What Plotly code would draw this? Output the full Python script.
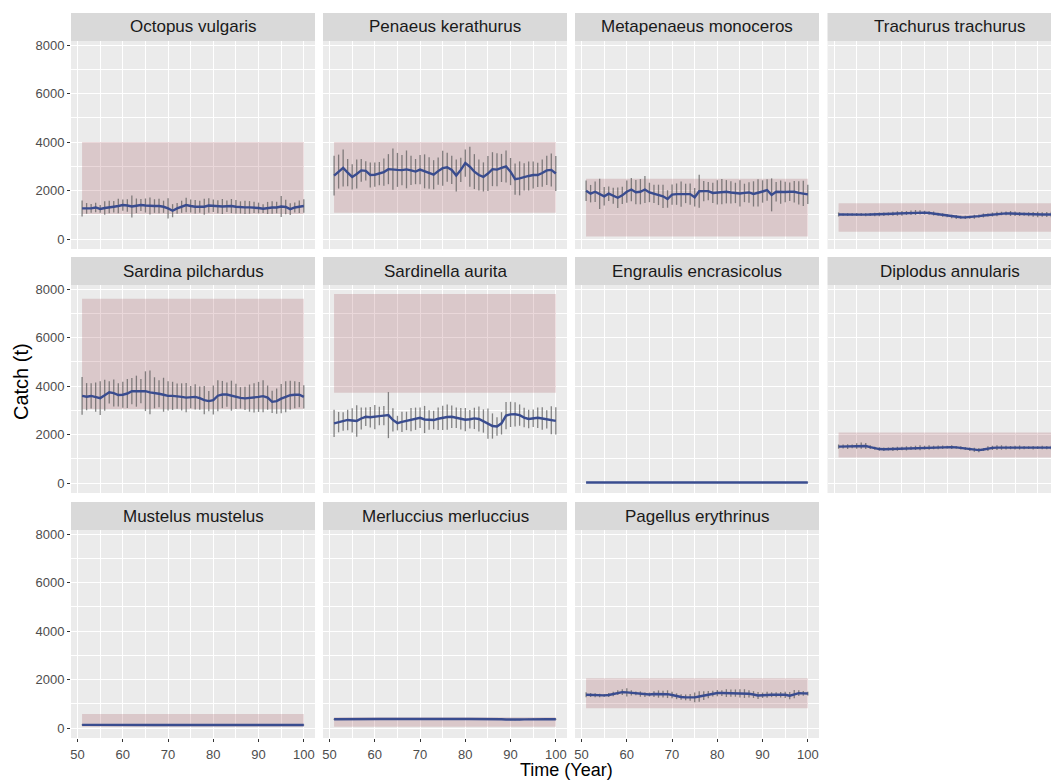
import plotly.graph_objects as go

# ---------------- data ----------------
years = list(range(51, 101))

species = ["Octopus vulgaris", "Penaeus kerathurus", "Metapenaeus monoceros",
           "Trachurus trachurus", "Sardina pilchardus", "Sardinella aurita",
           "Engraulis encrasicolus", "Diplodus annularis", "Mustelus mustelus",
           "Merluccius merluccius", "Pagellus erythrinus"]

# reference (target) band per species: lower / upper catch
band_low = [1030, 1080, 100, 300, 3050, 3720, 0, 1050, 55, 55, 810]
band_high = [4000, 4000, 2480, 1470, 7600, 7790, 45, 2080, 580, 440, 2050]

octopus_mean = [1263, 1263, 1263, 1300, 1240, 1280, 1320, 1332, 1360, 1400,
                1380, 1340, 1370, 1400, 1380, 1360, 1360, 1360, 1330, 1263,
                1167, 1260, 1330, 1400, 1360, 1330, 1332, 1332, 1380, 1370,
                1330, 1340, 1350, 1360, 1330, 1304, 1304, 1304, 1304, 1280,
                1250, 1280, 1300, 1300, 1340, 1320, 1230, 1300, 1330, 1360]
octopus_err = [330, 220, 180, 200, 160, 280, 260, 240, 300, 230,
               260, 450, 300, 250, 290, 350, 280, 300, 250, 420,
               270, 220, 250, 300, 270, 280, 250, 330, 300, 260,
               270, 310, 240, 290, 280, 250, 270, 260, 230, 220,
               180, 250, 260, 240, 430, 300, 240, 210, 260, 280]

penaeus_mean = [2610, 2780, 2930, 2740, 2560, 2680, 2830, 2810, 2640, 2650,
                2700, 2760, 2880, 2880, 2850, 2840, 2870, 2830, 2780, 2860,
                2790, 2720, 2650, 2800, 2920, 2960, 2850, 2620, 2850, 3130,
                2980, 2780, 2640, 2560, 2700, 2880, 2860, 2930, 2990, 2780,
                2470, 2500, 2560, 2600, 2640, 2640, 2720, 2830, 2850, 2700]
penaeus_err = [820, 700, 760, 560, 520, 600, 470, 400, 520, 500,
               480, 560, 620, 850, 700, 620, 780, 600, 520, 600,
               700, 650, 600, 560, 720, 600, 580, 660, 500, 560,
               820, 720, 640, 600, 720, 700, 680, 580, 660, 560,
               640, 700, 560, 600, 560, 500, 560, 600, 680, 720]

metapenaeus_mean = [1990, 1870, 1950, 1860, 1760, 1870, 1780, 1700, 1800, 1950,
                    2040, 1930, 1950, 2040, 1920, 1860, 1820, 1760, 1650, 1830,
                    1850, 1850, 1880, 1850, 1720, 1970, 1975, 1975, 1900, 1920,
                    1950, 1950, 1920, 1900, 1880, 1900, 1920, 1860, 1900, 1960,
                    2020, 1820, 1950, 1930, 1940, 1950, 1950, 1900, 1880, 1840]
metapenaeus_err = [420, 360, 420, 620, 380, 300, 330, 420, 360, 460,
                   480, 500, 520, 560, 400, 380, 420, 480, 360, 420,
                   440, 520, 400, 440, 380, 680, 420, 380, 420, 500,
                   520, 480, 460, 420, 540, 380, 420, 520, 560, 460,
                   440, 680, 400, 480, 420, 380, 440, 480, 520, 400]

trachurus_mean = [1010, 1005, 1005, 1010, 1010, 1010, 1005, 1010, 1010, 1015,
                  1020, 1030, 1040, 1050, 1060, 1070, 1085, 1095, 1098, 1090,
                  1075, 1050, 1020, 990, 960, 930, 910, 895, 893, 900,
                  920, 945, 970, 990, 1010, 1030, 1050, 1056, 1050, 1040,
                  1030, 1025, 1020, 1015, 1010, 1010, 1010, 1010, 1010, 1005]
trachurus_err = [80, 50, 60, 50, 60, 60, 70, 60, 70, 80,
                 70, 60, 80, 90, 100, 80, 90, 100, 90, 80,
                 70, 80, 60, 70, 60, 70, 80, 60, 70, 60,
                 80, 70, 80, 60, 80, 90, 70, 80, 100, 90,
                 80, 70, 80, 100, 110, 90, 100, 110, 120, 100]

sardina_mean = [3594, 3560, 3590, 3540, 3500, 3620, 3740, 3710, 3630, 3640,
                3690, 3790, 3786, 3786, 3786, 3740, 3720, 3680, 3640, 3594,
                3594, 3580, 3550, 3520, 3540, 3553, 3500, 3420, 3376, 3420,
                3600, 3649, 3649, 3600, 3570, 3512, 3490, 3500, 3512, 3550,
                3580, 3520, 3348, 3376, 3480, 3560, 3620, 3640, 3640, 3550]
sardina_err = [780, 560, 520, 600, 700, 640, 460, 560, 480, 540,
               600, 540, 640, 500, 820, 900, 640, 560, 700, 600,
               580, 520, 560, 600, 460, 520, 480, 580, 420, 600,
               640, 560, 500, 620, 520, 440, 480, 560, 600, 620,
               660, 500, 460, 520, 600, 640, 600, 560, 520, 480]

sardinella_mean = [2460, 2510, 2540, 2600, 2580, 2560, 2660, 2730, 2710, 2720,
                   2760, 2780, 2800, 2600, 2470, 2520, 2560, 2610, 2650, 2690,
                   2620, 2597, 2597, 2650, 2690, 2720, 2733, 2690, 2650, 2610,
                   2630, 2665, 2640, 2556, 2450, 2350, 2330, 2460, 2780, 2830,
                   2835, 2800, 2700, 2640, 2670, 2692, 2660, 2624, 2590, 2560]
sardinella_err = [560, 420, 380, 420, 500, 650, 450, 380, 420, 500,
                  380, 400, 950, 480, 300, 420, 380, 480, 460, 420,
                  560, 400, 380, 460, 500, 520, 460, 420, 440, 480,
                  380, 440, 520, 480, 620, 520, 380, 460, 560, 520,
                  500, 440, 400, 380, 360, 420, 460, 380, 580, 560]

engraulis_mean = [22, 21, 22, 23, 22, 21, 22, 22, 23, 22,
                  21, 22, 22, 23, 22, 21, 22, 22, 23, 22,
                  21, 22, 22, 23, 22, 21, 22, 22, 23, 22,
                  21, 22, 22, 23, 22, 21, 22, 22, 23, 22,
                  21, 22, 22, 23, 22, 21, 22, 22, 23, 22]
engraulis_err = [4, 5, 4, 6, 5, 4, 5, 4, 6, 5,
                 4, 5, 4, 6, 5, 4, 5, 4, 6, 5,
                 4, 5, 4, 6, 5, 4, 5, 4, 6, 5,
                 4, 5, 4, 6, 5, 4, 5, 4, 6, 5,
                 4, 5, 4, 6, 5, 4, 5, 4, 6, 5]

diplodus_mean = [1500, 1505, 1500, 1510, 1525, 1540, 1525, 1480, 1430, 1400,
                 1394, 1400, 1405, 1410, 1420, 1430, 1440, 1450, 1455, 1460,
                 1462, 1465, 1470, 1475, 1480, 1480, 1470, 1450, 1420, 1395,
                 1370, 1355, 1380, 1420, 1450, 1460, 1462, 1460, 1458, 1460,
                 1462, 1460, 1458, 1455, 1460, 1462, 1460, 1458, 1460, 1460]
diplodus_err = [90, 80, 100, 80, 110, 130, 120, 80, 60, 70,
                70, 60, 80, 80, 70, 90, 80, 90, 100, 80,
                90, 70, 80, 70, 60, 80, 60, 70, 60, 70,
                80, 90, 60, 100, 90, 100, 90, 80, 70, 80,
                80, 70, 60, 70, 60, 70, 70, 80, 70, 60]

mustelus_mean = [128, 126, 127, 125, 126, 128, 127, 126, 125, 124,
                 125, 126, 127, 126, 125, 124, 124, 125, 126, 125,
                 124, 123, 124, 125, 126, 125, 124, 125, 126, 127,
                 126, 125, 124, 125, 126, 125, 124, 123, 124, 125,
                 126, 125, 124, 125, 126, 125, 124, 125, 126, 125]
mustelus_err = [12, 10, 14, 11, 12, 13, 10, 12, 11, 13,
                12, 10, 11, 12, 13, 11, 10, 12, 11, 13,
                12, 11, 10, 12, 13, 11, 12, 10, 11, 12,
                13, 11, 12, 10, 11, 12, 13, 11, 12, 10,
                11, 12, 13, 11, 12, 10, 11, 12, 13, 11]

merluccius_mean = [360, 362, 365, 370, 375, 385, 392, 390, 380, 375,
                   372, 370, 368, 366, 365, 364, 365, 366, 368, 370,
                   372, 370, 368, 366, 365, 364, 365, 366, 368, 370,
                   372, 374, 372, 370, 368, 366, 364, 362, 352, 342,
                   340, 348, 356, 362, 365, 366, 365, 364, 362, 360]
merluccius_err = [20, 22, 18, 25, 20, 24, 22, 26, 20, 22,
                  18, 20, 22, 24, 20, 18, 22, 20, 24, 22,
                  20, 18, 22, 20, 24, 22, 20, 18, 22, 24,
                  20, 22, 18, 20, 24, 22, 20, 18, 22, 20,
                  24, 22, 20, 18, 22, 20, 24, 22, 20, 18]

pagellus_mean = [1373, 1360, 1350, 1340, 1345, 1360, 1400, 1460, 1480, 1470,
                 1450, 1430, 1400, 1370, 1380, 1400, 1401, 1400, 1395, 1360,
                 1310, 1280, 1263, 1263, 1263, 1300, 1340, 1380, 1420, 1442,
                 1442, 1440, 1440, 1440, 1430, 1420, 1410, 1380, 1340, 1350,
                 1370, 1373, 1373, 1373, 1370, 1332, 1400, 1440, 1430, 1420]
pagellus_err = [100, 80, 80, 70, 60, 80, 90, 100, 120, 170,
                110, 80, 110, 90, 80, 120, 150, 140, 160, 130,
                120, 110, 120, 140, 200, 220, 180, 150, 120, 130,
                120, 160, 150, 150, 170, 180, 150, 140, 140, 110,
                120, 100, 100, 110, 130, 150, 170, 120, 100, 80]

means = [octopus_mean, penaeus_mean, metapenaeus_mean, trachurus_mean,
         sardina_mean, sardinella_mean, engraulis_mean, diplodus_mean,
         mustelus_mean, merluccius_mean, pagellus_mean]
errs = [octopus_err, penaeus_err, metapenaeus_err, trachurus_err,
        sardina_err, sardinella_err, engraulis_err, diplodus_err,
        mustelus_err, merluccius_err, pagellus_err]

y_ticks = [0, 2000, 4000, 6000, 8000]
x_ticks = [50, 60, 70, 80, 90, 100]

# ---------------- layout geometry (page pixels) ----------------
PAGE_W, PAGE_H = 1059, 780
OFF = 8                      # default body margin of the html page
W, H = PAGE_W - OFF, PAGE_H - OFF
col_left = [71, 323, 575, 827.5]
col_right = [315, 567, 819, 1059]
row_top = [41, 285, 530]
row_bot = [249, 493, 738]
strip_h = 28
px_per_year = 4.525
x_lo = 48.55
y_range = [-412, 8165]


def fx(p):
    return (p - OFF) / W


def fy(p):
    return 1 - (p - OFF) / H


BAND = "rgba(150,60,70,0.2)"
LINE = "#394C8F"
ERR = "rgba(95,95,95,0.75)"
FONT = "Liberation Sans, Arial, sans-serif"

fig = go.Figure()
shapes = []
annotations = []

for k, name in enumerate(species):
    r, c = divmod(k, 4)
    idx = "" if k == 0 else str(k + 1)
    xa, ya = "x" + idx, "y" + idx
    m, e = means[k], errs[k]

    # band
    x0, x1 = min(years), max(years)
    fig.add_trace(go.Scatter(
        x=[x0, x1, x1, x0, x0],
        y=[band_low[k], band_low[k], band_high[k], band_high[k], band_low[k]],
        mode="lines", fill="toself", fillcolor=BAND, line=dict(width=0),
        xaxis=xa, yaxis=ya, hoverinfo="skip", showlegend=False))
    # error bars
    ex, ey = [], []
    for yr, mv, ev in zip(years, m, e):
        ex += [yr, yr, None]
        ey += [mv - ev, mv + ev, None]
    fig.add_trace(go.Scatter(x=ex, y=ey, mode="lines",
                             line=dict(color=ERR, width=1.3),
                             xaxis=xa, yaxis=ya, hoverinfo="skip", showlegend=False))
    # mean line
    fig.add_trace(go.Scatter(x=years, y=m, mode="lines",
                             line=dict(color=LINE, width=2.4),
                             xaxis=xa, yaxis=ya, showlegend=False))

    xr = (col_right[c] - col_left[c]) / px_per_year
    show_x = (r == 2)
    show_y = (c == 0)
    fig.layout["xaxis" + idx] = dict(
        domain=[fx(col_left[c]), fx(col_right[c])],
        range=[x_lo, x_lo + xr], anchor=ya,
        tickmode="array", tickvals=x_ticks, ticktext=[str(v) for v in x_ticks],
        showticklabels=show_x, ticks="outside" if show_x else "",
        ticklen=3, tickwidth=1, tickcolor="#333333", ticklabelstandoff=1,
        tickfont=dict(size=13, color="#4D4D4D", family=FONT),
        showgrid=True, gridcolor="white", gridwidth=1.2,
        minor=dict(tickmode="array", tickvals=[55, 65, 75, 85, 95],
                   showgrid=True, gridcolor="white", gridwidth=0.6, ticks=""),
        zeroline=False, showline=False, fixedrange=True, automargin=False)
    fig.layout["yaxis" + idx] = dict(
        domain=[fy(row_bot[r]), fy(row_top[r])],
        range=y_range, anchor=xa,
        tickmode="array", tickvals=y_ticks, ticktext=[str(v) for v in y_ticks],
        showticklabels=show_y, ticks="outside" if show_y else "",
        ticklen=3, tickwidth=1, tickcolor="#333333",
        tickfont=dict(size=13, color="#4D4D4D", family=FONT),
        showgrid=True, gridcolor="white", gridwidth=1.2,
        minor=dict(tickmode="array", tickvals=[1000, 3000, 5000, 7000],
                   showgrid=True, gridcolor="white", gridwidth=0.6, ticks=""),
        zeroline=False, showline=False, fixedrange=True, automargin=False)

    # strip
    shapes.append(dict(type="rect", xref="paper", yref="paper",
                       x0=fx(col_left[c]), x1=fx(col_right[c]),
                       y0=fy(row_top[r]), y1=fy(row_top[r] - strip_h),
                       fillcolor="#D9D9D9", line=dict(width=0), layer="above"))
    centre = (col_left[c] + (col_right[c] if c < 3 else col_left[c] + 244)) / 2
    annotations.append(dict(
        text=name, xref="paper", yref="paper", showarrow=False,
        x=fx(centre), y=fy(row_top[r] - strip_h / 2),
        xanchor="center", yanchor="middle",
        font=dict(size=17, color="#1A1A1A", family=FONT)))

annotations.append(dict(text="Time (Year)", xref="paper", yref="paper", showarrow=False,
                        x=fx(566), y=fy(770), xanchor="center", yanchor="middle",
                        font=dict(size=18, color="#000000", family=FONT)))
annotations.append(dict(text="Catch (t)", xref="paper", yref="paper", showarrow=False,
                        x=fx(21), y=fy(382), xanchor="center", yanchor="middle",
                        textangle=-90,
                        font=dict(size=20, color="#000000", family=FONT)))

fig.update_layout(width=W, height=H, margin=dict(l=0, r=0, t=0, b=0),
                  paper_bgcolor="white", plot_bgcolor="#EBEBEB",
                  shapes=shapes, annotations=annotations, showlegend=False,
                  font=dict(family=FONT))

fig.write_html("out.html")
